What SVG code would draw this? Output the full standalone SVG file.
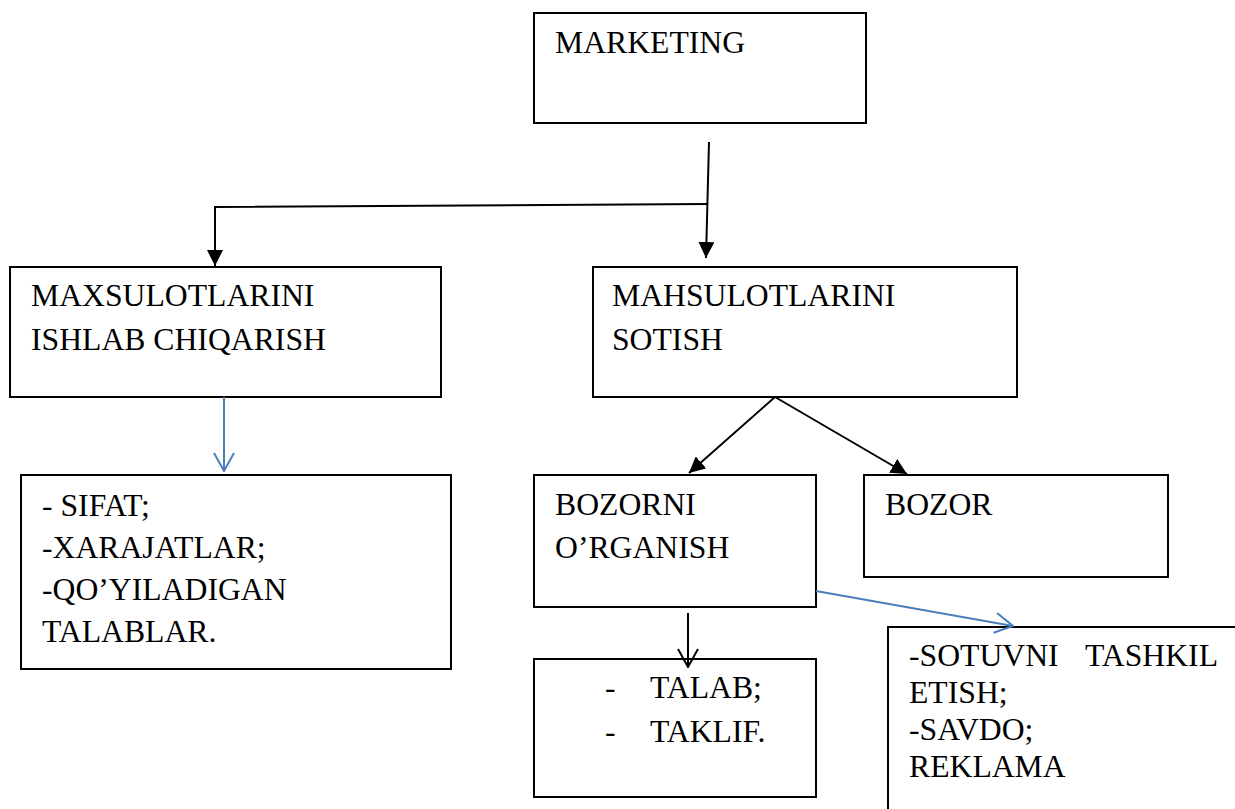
<svg xmlns="http://www.w3.org/2000/svg" width="1235" height="809" viewBox="0 0 1235 809">
<style>
.box{fill:#fff;stroke:#000;stroke-width:2}
text{font-family:'Liberation Serif','Times New Roman',Times,'DejaVu Serif',serif;font-size:31.7px;fill:#000}
.c{fill:none;stroke:#000;stroke-width:2}
.b{fill:none;stroke:#4a7ebb;stroke-width:2}
</style>
<defs>
<marker id="af" viewBox="0 0 16 16" refX="16" refY="8" markerWidth="16" markerHeight="16" orient="auto" markerUnits="userSpaceOnUse"><path d="M0,0 L16,8 L0,16 z" fill="#000"/></marker>
<marker id="ab" viewBox="0 0 20 22" refX="19" refY="11" markerWidth="20" markerHeight="22" orient="auto" markerUnits="userSpaceOnUse"><path d="M1,1 L19,11 L1,21" fill="none" stroke="#4a7ebb" stroke-width="2"/></marker>
<marker id="ak" viewBox="0 0 20 22" refX="19" refY="11" markerWidth="20" markerHeight="22" orient="auto" markerUnits="userSpaceOnUse"><path d="M1,1 L19,11 L1,21" fill="none" stroke="#000" stroke-width="2"/></marker>
</defs>
<g id="n-marketing"><rect class="box" x="534" y="13" width="332" height="110"/><text x="555" y="53" font-family="Liberation Serif, serif">MARKETING</text></g>
<g id="n-maxsulot"><rect class="box" x="10" y="267" width="431" height="130"/><text x="31" y="306">MAXSULOTLARINI</text><text x="31" y="350">ISHLAB CHIQARISH</text></g>
<g id="n-mahsulot"><rect class="box" x="593" y="267" width="424" height="130"/><text x="612" y="306">MAHSULOTLARINI</text><text x="612" y="350">SOTISH</text></g>
<g id="n-sifat"><rect class="box" x="21" y="475" width="430" height="194"/><text x="42" y="516">- SIFAT;</text><text x="42" y="558">-XARAJATLAR;</text><text x="42" y="600">-QO’YILADIGAN</text><text x="42" y="642">TALABLAR.</text></g>
<g id="n-bozorni"><rect class="box" x="534" y="475" width="282" height="132"/><text x="555" y="515">BOZORNI</text><text x="555" y="558">O’RGANISH</text></g>
<g id="n-bozor"><rect class="box" x="864" y="475" width="304" height="102"/><text x="885" y="515">BOZOR</text></g>
<g id="n-talab"><rect class="box" x="534" y="659" width="282" height="138"/><text x="605" y="698">-</text><text x="650" y="698">TALAB;</text><text x="605" y="742">-</text><text x="650" y="742">TAKLIF.</text></g>
<g id="n-sotuv"><rect class="box" x="888" y="627" width="400" height="250"/><text x="909" y="666">-SOTUVNI</text><text x="1218" y="666" text-anchor="end">TASHKIL</text><text x="909" y="703">ETISH;</text><text x="909" y="740">-SAVDO;</text><text x="909" y="777">REKLAMA</text></g>
<g id="connectors">
<path class="c" d="M709,142 L706,258" marker-end="url(#af)"/>
<path class="c" d="M707,204 L215,207 L215,266" marker-end="url(#af)"/>
<path class="b" d="M224,397 L224,471" marker-end="url(#ab)"/>
<path class="c" d="M775,397 L689,473" marker-end="url(#af)"/>
<path class="c" d="M775,397 L907,474" marker-end="url(#af)"/>
<path class="b" d="M816,591 L1013,626" marker-end="url(#ab)"/>
<path class="c" d="M688,613 L688,667" marker-end="url(#ak)"/>
</g>
</svg>
